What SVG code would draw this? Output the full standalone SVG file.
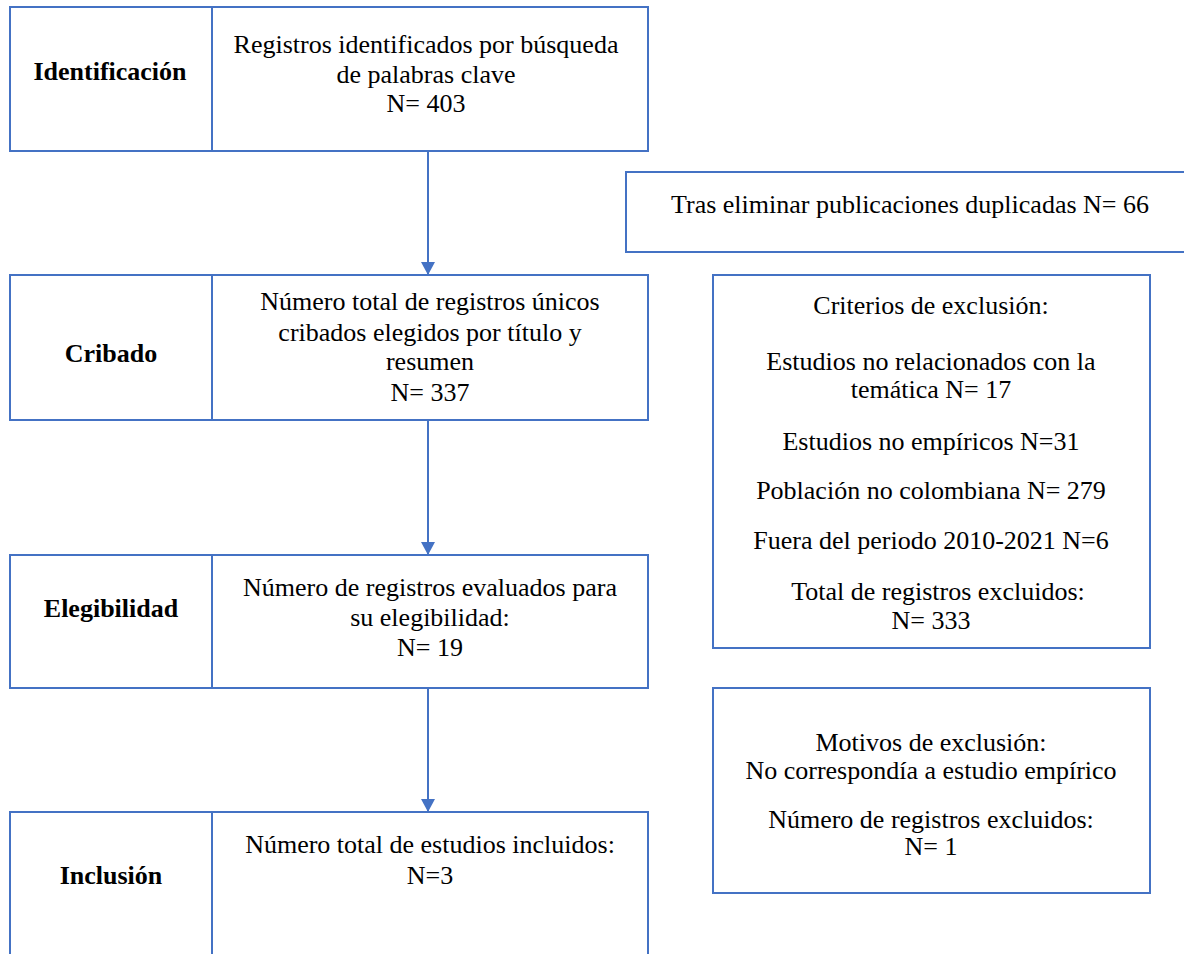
<svg xmlns="http://www.w3.org/2000/svg" width="1184" height="954" viewBox="0 0 1184 954">
<style>
.box{fill:#fff;stroke:#4472C4;stroke-width:2}
.t{font-family:"Liberation Serif","Times New Roman",serif;font-size:26px;fill:#000;text-anchor:middle}
.b{font-weight:bold}
.c{stroke:#4472C4;stroke-width:2;fill:none}
.a{marker-end:url(#ah)}
</style>
<defs>
<marker id="ah" markerWidth="13" markerHeight="14" refX="13" refY="7" orient="auto" markerUnits="userSpaceOnUse" viewBox="0 0 13 14">
<path d="M0,0 L13,7 L0,14 Z" fill="#4472C4"/>
</marker>
</defs>
<rect width="1184" height="954" fill="#fff"/>
<g id="connectors">
<line class="c a" x1="428" y1="152" x2="428" y2="275"/>
<line class="c a" x1="428" y1="421" x2="428" y2="555"/>
<line class="c a" x1="428" y1="689" x2="428" y2="812"/>
</g>
<g id="identificacion">
<rect class="box" x="10" y="7" width="638" height="144"/>
<line class="c" x1="212" y1="7" x2="212" y2="151"/>
<text class="t b" x="110" y="80">Identificación</text>
<text class="t" x="426" y="53">Registros identificados por búsqueda</text>
<text class="t" x="426" y="83">de palabras clave</text>
<text class="t" x="426" y="112">N= 403</text>
</g>
<g id="cribado">
<rect class="box" x="10" y="275" width="638" height="145"/>
<line class="c" x1="212" y1="275" x2="212" y2="420"/>
<text class="t b" x="111" y="362">Cribado</text>
<text class="t" x="430" y="310">Número total de registros únicos</text>
<text class="t" x="430" y="341">cribados elegidos por título y</text>
<text class="t" x="430" y="370">resumen</text>
<text class="t" x="430" y="401">N= 337</text>
</g>
<g id="elegibilidad">
<rect class="box" x="10" y="555" width="638" height="133"/>
<line class="c" x1="212" y1="555" x2="212" y2="688"/>
<text class="t b" x="111" y="617">Elegibilidad</text>
<text class="t" x="430" y="596">Número de registros evaluados para</text>
<text class="t" x="430" y="626">su elegibilidad:</text>
<text class="t" x="430" y="656">N= 19</text>
</g>
<g id="inclusion">
<rect class="box" x="10" y="812" width="638" height="200"/>
<line class="c" x1="212" y1="812" x2="212" y2="960"/>
<text class="t b" x="111" y="884">Inclusión</text>
<text class="t" x="430" y="853">Número total de estudios incluidos:</text>
<text class="t" x="430" y="884">N=3</text>
</g>
<g id="duplicados">
<rect class="box" x="626" y="172" width="600" height="80"/>
<text class="t" x="910" y="213">Tras eliminar publicaciones duplicadas N= 66</text>
</g>
<g id="criterios">
<rect class="box" x="713" y="275" width="437" height="373"/>
<text class="t" x="931" y="314">Criterios de exclusión:</text>
<text class="t" x="931" y="370">Estudios no relacionados con la</text>
<text class="t" x="931" y="398">temática N= 17</text>
<text class="t" x="931" y="450">Estudios no empíricos N=31</text>
<text class="t" x="931" y="499">Población no colombiana N= 279</text>
<text class="t" x="931" y="549">Fuera del periodo 2010-2021 N=6</text>
<text class="t" x="938" y="600">Total de registros excluidos:</text>
<text class="t" x="931" y="629">N= 333</text>
</g>
<g id="motivos">
<rect class="box" x="713" y="688" width="437" height="205"/>
<text class="t" x="931" y="751">Motivos de exclusión:</text>
<text class="t" x="931" y="779">No correspondía a estudio empírico</text>
<text class="t" x="931" y="828">Número de registros excluidos:</text>
<text class="t" x="931" y="855">N= 1</text>
</g>
</svg>
